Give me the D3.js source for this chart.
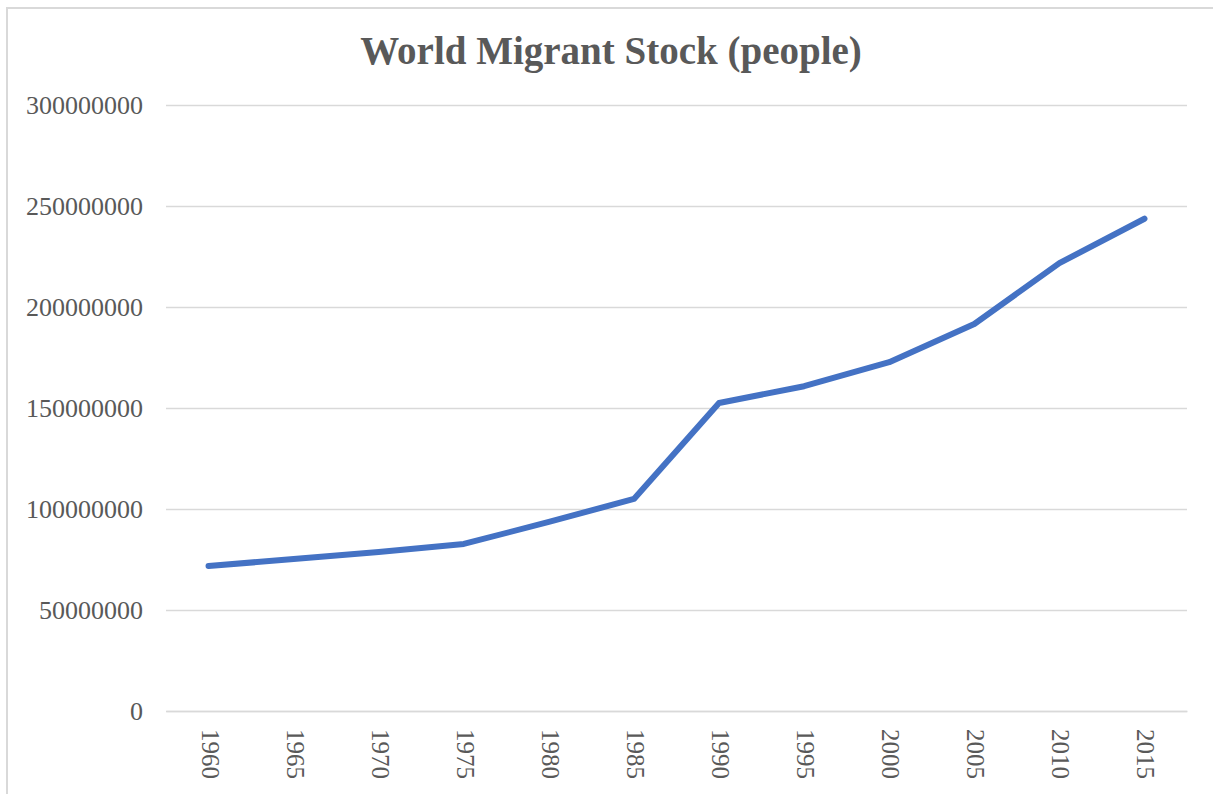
<!DOCTYPE html>
<html>
<head>
<meta charset="utf-8">
<script src="https://cdn.jsdelivr.net/npm/d3@7"></script>
<style>
  html, body { margin: 0; padding: 0; background: #fff; }
  svg { display: block; }
</style>
</head>
<body>
<svg id="chart" width="1213" height="794"></svg>
<script>
// World migrant stock, number of people by year
const years = ["1960", "1965", "1970", "1975", "1980", "1985", "1990", "1995", "2000", "2005", "2010", "2015"];
const migrants = [71800000, 75200000, 78700000, 82700000, 93600000, 105000000, 152500000, 160800000, 172700000, 191600000, 221700000, 243700000];
const yTicks = [0, 50000000, 100000000, 150000000, 200000000, 250000000, 300000000];

const svg = d3.select("#chart");
const W = 1213, H = 794;
const margin = { left: 166, right: 26, top: 105, bottom: 83 };
const textColor = "#595959";
const gridColor = "#d9d9d9";
const serif = "'Liberation Serif', 'Times New Roman', serif";

// chart area frame
svg.append("rect")
  .attr("x", 7).attr("y", 8)
  .attr("width", W + 20).attr("height", H + 20)
  .attr("fill", "#fff")
  .attr("stroke", gridColor).attr("stroke-width", 2);

const x = d3.scaleBand().domain(years).range([margin.left, W - margin.right]);
const y = d3.scaleLinear().domain([0, 300000000]).range([H - margin.bottom, margin.top]);

// title
svg.append("text")
  .attr("x", 611).attr("y", 64)
  .attr("text-anchor", "middle")
  .attr("font-family", serif)
  .attr("font-weight", "bold")
  .attr("font-size", 39)
  .attr("fill", textColor)
  .text("World Migrant Stock (people)");

// horizontal gridlines and value labels
const yAxis = d3.axisLeft(y)
  .tickValues(yTicks)
  .tickSize(-(W - margin.left - margin.right))
  .tickPadding(23)
  .tickFormat(d3.format("d"));

const gy = svg.append("g")
  .attr("transform", `translate(${margin.left},0)`)
  .call(yAxis);
gy.select(".domain").remove();
gy.selectAll(".tick line").attr("stroke", gridColor).attr("stroke-width", 1.5);
gy.selectAll(".tick text")
  .attr("font-family", serif)
  .attr("font-size", 26)
  .attr("fill", textColor);

// category axis with rotated year labels
const xAxis = d3.axisBottom(x).tickSize(0).tickPadding(0);
const gx = svg.append("g")
  .attr("transform", `translate(0,${H - margin.bottom})`)
  .call(xAxis);
gx.select(".domain").attr("stroke", gridColor).attr("stroke-width", 1.5);
gx.selectAll(".tick text")
  .attr("font-family", serif)
  .attr("font-size", 25)
  .attr("fill", textColor)
  .attr("text-anchor", "start")
  .attr("transform", "translate(1,18) rotate(90)")
  .attr("y", 0)
  .attr("x", 0)
  .attr("dy", "0.32em");

// data line
const line = d3.line()
  .x((d, i) => x(years[i]) + x.bandwidth() / 2)
  .y(d => y(d));

svg.append("path")
  .datum(migrants)
  .attr("d", line)
  .attr("fill", "none")
  .attr("stroke", "#4472c4")
  .attr("stroke-width", 6)
  .attr("stroke-linecap", "round")
  .attr("stroke-linejoin", "round");
</script>
</body>
</html>
